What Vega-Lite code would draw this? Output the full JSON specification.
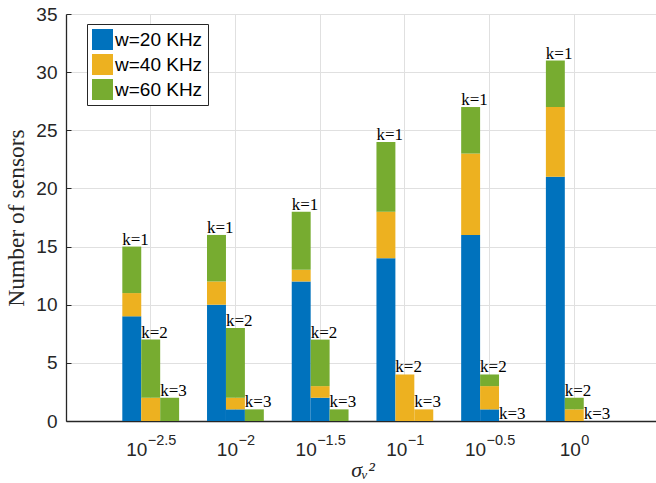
{
  "$schema": "https://vega.github.io/schema/vega-lite/v6.json",
  "width": 593,
  "height": 407,
  "autosize": {"type": "none"},
  "padding": {"left": 66, "top": 14, "right": 0, "bottom": 62},
  "background": "white",
  "config": {"view": {"stroke": null}, "font": "Liberation Sans"},
  "data": {"values": [
    {"s": "-2.5", "k": "k=1", "w": "w=20 KHz", "n": 9},
    {"s": "-2.5", "k": "k=1", "w": "w=40 KHz", "n": 2},
    {"s": "-2.5", "k": "k=1", "w": "w=60 KHz", "n": 4},
    {"s": "-2.5", "k": "k=2", "w": "w=20 KHz", "n": 0},
    {"s": "-2.5", "k": "k=2", "w": "w=40 KHz", "n": 2},
    {"s": "-2.5", "k": "k=2", "w": "w=60 KHz", "n": 5},
    {"s": "-2.5", "k": "k=3", "w": "w=20 KHz", "n": 0},
    {"s": "-2.5", "k": "k=3", "w": "w=40 KHz", "n": 0},
    {"s": "-2.5", "k": "k=3", "w": "w=60 KHz", "n": 2},
    {"s": "-2", "k": "k=1", "w": "w=20 KHz", "n": 10},
    {"s": "-2", "k": "k=1", "w": "w=40 KHz", "n": 2},
    {"s": "-2", "k": "k=1", "w": "w=60 KHz", "n": 4},
    {"s": "-2", "k": "k=2", "w": "w=20 KHz", "n": 1},
    {"s": "-2", "k": "k=2", "w": "w=40 KHz", "n": 1},
    {"s": "-2", "k": "k=2", "w": "w=60 KHz", "n": 6},
    {"s": "-2", "k": "k=3", "w": "w=20 KHz", "n": 0},
    {"s": "-2", "k": "k=3", "w": "w=40 KHz", "n": 0},
    {"s": "-2", "k": "k=3", "w": "w=60 KHz", "n": 1},
    {"s": "-1.5", "k": "k=1", "w": "w=20 KHz", "n": 12},
    {"s": "-1.5", "k": "k=1", "w": "w=40 KHz", "n": 1},
    {"s": "-1.5", "k": "k=1", "w": "w=60 KHz", "n": 5},
    {"s": "-1.5", "k": "k=2", "w": "w=20 KHz", "n": 2},
    {"s": "-1.5", "k": "k=2", "w": "w=40 KHz", "n": 1},
    {"s": "-1.5", "k": "k=2", "w": "w=60 KHz", "n": 4},
    {"s": "-1.5", "k": "k=3", "w": "w=20 KHz", "n": 0},
    {"s": "-1.5", "k": "k=3", "w": "w=40 KHz", "n": 0},
    {"s": "-1.5", "k": "k=3", "w": "w=60 KHz", "n": 1},
    {"s": "-1", "k": "k=1", "w": "w=20 KHz", "n": 14},
    {"s": "-1", "k": "k=1", "w": "w=40 KHz", "n": 4},
    {"s": "-1", "k": "k=1", "w": "w=60 KHz", "n": 6},
    {"s": "-1", "k": "k=2", "w": "w=20 KHz", "n": 0},
    {"s": "-1", "k": "k=2", "w": "w=40 KHz", "n": 4},
    {"s": "-1", "k": "k=2", "w": "w=60 KHz", "n": 0},
    {"s": "-1", "k": "k=3", "w": "w=20 KHz", "n": 0},
    {"s": "-1", "k": "k=3", "w": "w=40 KHz", "n": 1},
    {"s": "-1", "k": "k=3", "w": "w=60 KHz", "n": 0},
    {"s": "-0.5", "k": "k=1", "w": "w=20 KHz", "n": 16},
    {"s": "-0.5", "k": "k=1", "w": "w=40 KHz", "n": 7},
    {"s": "-0.5", "k": "k=1", "w": "w=60 KHz", "n": 4},
    {"s": "-0.5", "k": "k=2", "w": "w=20 KHz", "n": 1},
    {"s": "-0.5", "k": "k=2", "w": "w=40 KHz", "n": 2},
    {"s": "-0.5", "k": "k=2", "w": "w=60 KHz", "n": 1},
    {"s": "-0.5", "k": "k=3", "w": "w=20 KHz", "n": 0},
    {"s": "-0.5", "k": "k=3", "w": "w=40 KHz", "n": 0},
    {"s": "-0.5", "k": "k=3", "w": "w=60 KHz", "n": 0},
    {"s": "0", "k": "k=1", "w": "w=20 KHz", "n": 21},
    {"s": "0", "k": "k=1", "w": "w=40 KHz", "n": 6},
    {"s": "0", "k": "k=1", "w": "w=60 KHz", "n": 4},
    {"s": "0", "k": "k=2", "w": "w=20 KHz", "n": 0},
    {"s": "0", "k": "k=2", "w": "w=40 KHz", "n": 1},
    {"s": "0", "k": "k=2", "w": "w=60 KHz", "n": 1},
    {"s": "0", "k": "k=3", "w": "w=20 KHz", "n": 0},
    {"s": "0", "k": "k=3", "w": "w=40 KHz", "n": 0},
    {"s": "0", "k": "k=3", "w": "w=60 KHz", "n": 0}
  ]},
  "layer": [
    {
      "mark": {"type": "bar"},
      "encoding": {
        "x": {
          "field": "s", "type": "nominal",
          "sort": ["-2.5", "-2", "-1.5", "-1", "-0.5", "0"],
          "scale": {"paddingInner": 0, "paddingOuter": 0.5},
          "axis": {
            "orient": "bottom",
            "labelExpr": "'10'", "labelAngle": 0, "labelFont": "Liberation Sans", "labelFontSize": 19,
            "labelColor": "#262626", "labelPadding": 19,
            "labelOffset": {"expr": "datum.value == '-2' || datum.value == '-1' ? -8 : (datum.value == '0' ? -4 : -14)"},
            "ticks": false, "tickSize": 0,
            "domainColor": "#262626", "domainWidth": 1.3,
            "grid": true, "gridColor": "#e0e0e0", "gridWidth": 1, "bandPosition": 0.5,
            "title": "σᵥ²", "titleFont": "Liberation Serif", "titleFontStyle": "italic", "titleFontWeight": "normal",
            "titleFontSize": 22, "titlePadding": 0, "titleColor": "#262626"
          }
        },
        "xOffset": {"field": "k", "type": "nominal", "scale": {"paddingInner": 0, "paddingOuter": 0.737}},
        "y": {
          "field": "n", "type": "quantitative", "stack": "zero",
          "scale": {"domain": [0, 35], "nice": false},
          "axis": {
            "values": [0, 5, 10, 15, 20, 25, 30, 35],
            "title": "Number of sensors", "titleFont": "Liberation Serif", "titleFontWeight": "normal",
            "titleFontSize": 23.5, "titleColor": "#262626", "titlePadding": 7,
            "labelFont": "Liberation Sans", "labelFontSize": 19, "labelColor": "#262626",
            "tickSize": -5, "tickColor": "#262626", "labelPadding": 14,
            "domainColor": "#262626", "domainWidth": 1.3,
            "grid": true, "gridColor": "#e0e0e0", "gridWidth": 1
          }
        },
        "color": {
          "field": "w", "type": "nominal",
          "scale": {"domain": ["w=20 KHz", "w=40 KHz", "w=60 KHz"], "range": ["#0072BD", "#EDB120", "#77AC30"]},
          "legend": {
            "title": null, "orient": "none", "legendX": 21, "legendY": 10,
            "symbolType": "square", "symbolSize": 441, "symbolStrokeWidth": 0, "symbolOpacity": 1,
            "labelFont": "Liberation Sans", "labelFontSize": 19, "labelColor": "#000000", "labelOffset": 2,
            "rowPadding": 4, "padding": 5, "fillColor": "white", "strokeColor": "#262626"
          }
        },
        "order": {"field": "w", "sort": "ascending"}
      }
    },
    {
      "transform": [{"aggregate": [{"op": "sum", "field": "n", "as": "total"}], "groupby": ["s", "k"]}],
      "mark": {"type": "text", "align": "left", "baseline": "alphabetic", "dx": -9.5, "dy": -2, "font": "Liberation Serif", "fontSize": 17, "color": "#000000"},
      "encoding": {
        "x": {
          "field": "s", "type": "nominal",
          "sort": ["-2.5", "-2", "-1.5", "-1", "-0.5", "0"],
          "axis": {
            "orient": "bottom",
            "labelExpr": "replace(datum.value, '-', '−')", "labelAngle": 0, "labelFont": "Liberation Sans",
            "labelFontSize": 14.5, "labelColor": "#262626", "labelAlign": "left", "labelPadding": 12.5,
            "labelOffset": {"expr": "datum.value == '-2' || datum.value == '-1' ? 3 : (datum.value == '0' ? 7 : -3)"},
            "domain": false, "ticks": false, "tickSize": 0, "grid": false, "title": null
          }
        },
        "xOffset": {"field": "k", "type": "nominal"},
        "y": {"field": "total", "type": "quantitative", "scale": {"domain": [0, 35], "nice": false}, "axis": {"title": "Number of sensors"}},
        "text": {"field": "k", "type": "nominal"}
      }
    }
  ],
  "resolve": {"axis": {"x": "independent"}}
}
